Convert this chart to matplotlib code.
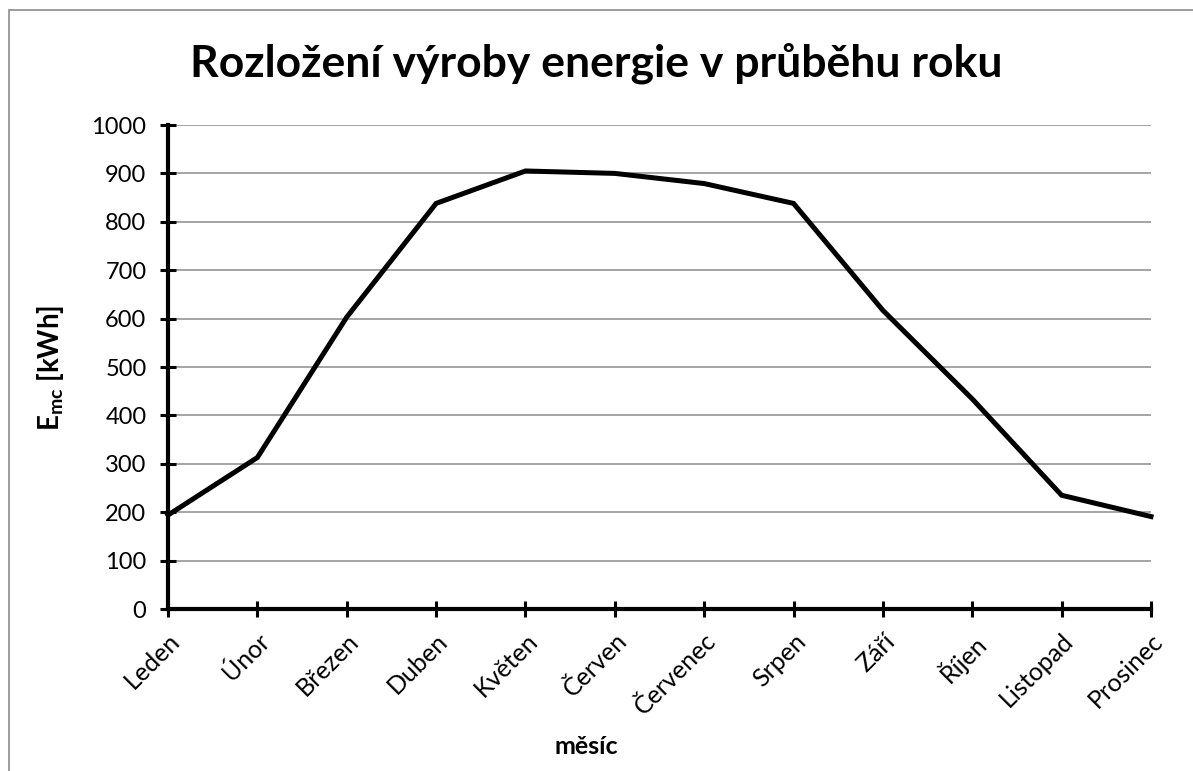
import matplotlib
matplotlib.use("Agg")
import matplotlib.pyplot as plt
from matplotlib.patches import Rectangle

months = ["Leden", "Únor", "Březen", "Duben", "Květen", "Červen",
          "Červenec", "Srpen", "Září", "Říjen", "Listopad", "Prosinec"]
energy = [194, 313, 603, 838, 905, 900, 879, 838, 617, 434, 235, 191]
yticks = [0, 100, 200, 300, 400, 500, 600, 700, 800, 900, 1000]

plt.rcParams['font.family'] = ['Lato', 'DejaVu Sans']
plt.rcParams['mathtext.fontset'] = 'custom'
plt.rcParams['mathtext.bf'] = 'Lato:bold'
plt.rcParams['mathtext.rm'] = 'Lato'

W, H = 1193, 771
fig = plt.figure(figsize=(W / 100, H / 100), dpi=100)
ax = fig.add_axes([168 / W, 1 - 609 / H, (1151 - 168) / W, (609 - 125) / H])

x = list(range(len(months)))
ax.plot(x, energy, color='black', lw=3.6, solid_joinstyle='miter', zorder=3, clip_on=False)

ax.set_xlim(0, len(months) - 1)
ax.set_ylim(0, 1000)
ax.set_yticks(yticks)
ax.set_xticks(x)
ax.set_xticklabels(months, rotation=45, ha='right', va='top', rotation_mode='anchor')
ax.tick_params(axis='both', direction='inout', length=11, width=2.2, labelsize=17, color='black')
ax.tick_params(axis='x', pad=9, labelsize=18)
ax.tick_params(axis='y', pad=10)

ax.yaxis.grid(True, color='#8c8c8c', lw=1.1)
ax.set_axisbelow(True)
for s in ['top', 'right']:
    ax.spines[s].set_visible(False)
for s in ['left', 'bottom']:
    ax.spines[s].set_linewidth(3)
    ax.spines[s].set_zorder(4)

fig.text(596 / W, 1 - 63 / H, "Rozložení výroby energie v průběhu roku",
         ha='center', va='center', fontsize=32, fontweight='bold')
fig.text(586 / W, 1 - 746 / H, "měsíc", ha='center', va='center', fontsize=18, fontweight='bold')
fig.text(50 / W, 1 - 368 / H, r"$\mathbf{E_{mc}}$ [kWh]", ha='center', va='center',
         rotation=90, fontsize=20, fontweight='bold')

fig.patches.append(Rectangle((9 / W, -0.1), 1.2, 1 - 10 / H + 0.1, transform=fig.transFigure,
                             fill=False, edgecolor='#8c8c8c', lw=1.2))

fig.savefig("out.png", dpi=100)
